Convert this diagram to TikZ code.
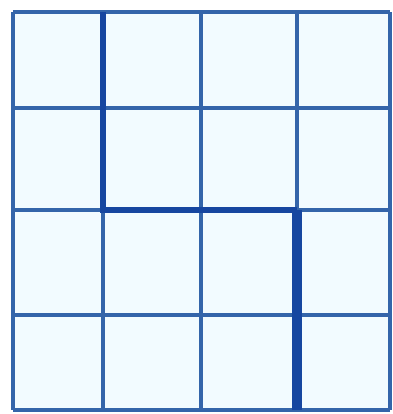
\documentclass[tikz,border=0pt]{standalone}
\usepackage{tikz}
\definecolor{gridblue}{RGB}{52, 101, 170}
\definecolor{pathblue}{RGB}{22, 70, 160}
\definecolor{cellbg}{RGB}{242, 251, 255}

\begin{document}
\begin{tikzpicture}[
  x=0.01cm, y=-0.01cm,
  gridline/.style={gridblue, line width=1.2pt},
  route/.style={pathblue, line width=1.8pt, line join=miter}
]
  \useasboundingbox (0,0) rectangle (393,414);
  \fill[white] (0,0) rectangle (393,414);
  \fill[cellbg] (13,12) rectangle (390,410);
  % grid lines
  \foreach \x in {13, 103, 201, 297, 390}
    \draw[gridline] (\x,12) -- (\x,410);
  \foreach \y in {12, 108, 210, 315, 410}
    \draw[gridline] (13,\y) -- (390,\y);
  % thick route
  \coordinate (top) at (103,12);
  \coordinate (turnA) at (103,210);
  \coordinate (turnB) at (297,210);
  \coordinate (bottom) at (297,410);
  \draw[route] (top) -- (turnA) -- (turnB);
  \draw[route, line width=2.8pt] (turnB) -- (bottom);
\end{tikzpicture}
\end{document}
